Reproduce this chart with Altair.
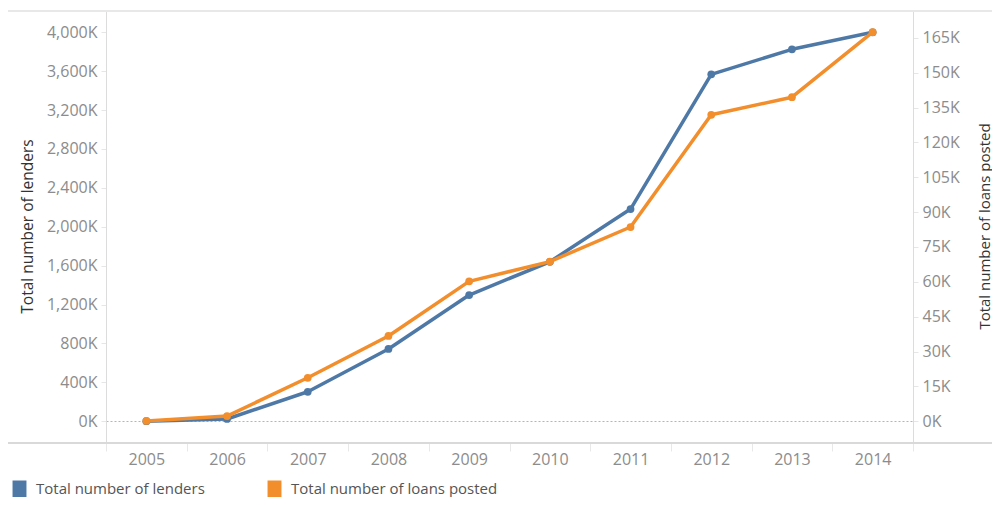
import altair as alt
import pandas as pd

years = ["2005", "2006", "2007", "2008", "2009", "2010", "2011", "2012", "2013", "2014"]
lenders = [300, 23000, 303000, 743000, 1298000, 1640000, 2182000, 3568000, 3825000, 4000000]
loans = [100, 2200, 18700, 36700, 60200, 68700, 83600, 131900, 139500, 167500]
series_names = ["Total number of lenders", "Total number of loans posted"]
series_colors = ["#4e79a7", "#f28e2b"]
left_ticks = [0, 400000, 800000, 1200000, 1600000, 2000000, 2400000, 2800000, 3200000, 3600000, 4000000]
right_ticks = [0, 15000, 30000, 45000, 60000, 75000, 90000, 105000, 120000, 135000, 150000, 165000]

rows = []
for y, a, b in zip(years, lenders, loans):
    rows.append({"year": y, "value": a, "series": series_names[0]})
    rows.append({"year": y, "value": b, "series": series_names[1]})
df = pd.DataFrame(rows)

FONT = "Open Sans"
W, H = 807, 432
LABEL_GREY = "#8c8c8c"

x_enc = alt.X(
    "year:N",
    sort=years,
    scale=alt.Scale(type="band", paddingInner=0, paddingOuter=0),
    axis=alt.Axis(
        title=None, labelAngle=0, domain=False, tickBand="extent", tickSize=8,
        tickColor="#e8e8e8", tickWidth=1, labelPadding=0, labelFont=FONT,
        labelFontSize=16, labelColor=LABEL_GREY, grid=False,
    ),
)

color_scale = alt.Scale(domain=series_names, range=series_colors)

y_left = alt.Y(
    "value:Q",
    scale=alt.Scale(domain=[-224000, 4219000], nice=False, zero=False),
    axis=alt.Axis(
        orient="left", values=left_ticks,
        labelExpr="format(datum.value / 1000, ',') + 'K'",
        title="Total number of lenders", titleFont=FONT, titleFontSize=15.5,
        titleFontWeight="normal", titleColor="#333333", titleAngle=270,
        titleX=-79, titleY=215, titleAlign="center", titleBaseline="middle",
        labelFont=FONT, labelFontSize=16, labelColor=LABEL_GREY,
        tickSize=5, tickColor="#e6e6e6", labelPadding=4,
        domainColor="#dcdcdc", domainWidth=1,
        grid=True, gridColor="#b5b5b5", gridDash=[2, 2], gridWidth=1,
        gridOpacity={"condition": {"test": "datum.value === 0", "value": 1}, "value": 0},
    ),
)

y_right = alt.Y(
    "value:Q",
    scale=alt.Scale(domain=[-9390, 176600], nice=False, zero=False),
    axis=alt.Axis(
        orient="right", values=right_ticks,
        labelExpr="format(datum.value / 1000, ',') + 'K'",
        title="Total number of loans posted", titleFont=FONT, titleFontSize=15,
        titleFontWeight="normal", titleColor="#333333", titleAngle=270,
        titleX=71, titleY=215, titleAlign="center", titleBaseline="middle",
        labelFont=FONT, labelFontSize=16, labelColor=LABEL_GREY,
        tickSize=5, tickColor="#e6e6e6", labelPadding=4,
        domainColor="#dcdcdc", domainWidth=1, grid=False,
    ),
)

legend = alt.Legend(
    orient="none", legendX=-95, legendY=469.5, direction="horizontal", title=None,
    symbolType="M-0.82,-1H0.82V1H-0.82Z", symbolSize=289, symbolStrokeWidth=0,
    symbolOpacity=1, labelFont=FONT, labelFontSize=15, labelColor="#555555",
    labelOffset=8, columnPadding=61, labelLimit=400,
)

def series_layers(idx, yenc):
    name = series_names[idx]
    base = alt.Chart(df).transform_filter(alt.datum.series == name)
    line = base.mark_line(
        strokeWidth=3.5, strokeJoin="round", color=series_colors[idx]
    ).encode(x=x_enc, y=yenc)
    pts = base.mark_circle(size=60, opacity=1).encode(
        x=x_enc, y=yenc,
        color=alt.Color("series:N", scale=color_scale, legend=legend),
    )
    return alt.layer(line, pts)

dummy = pd.DataFrame({"k": [0]})
top_line = alt.Chart(dummy).mark_rule(color="#e8e8e8", strokeWidth=2).encode(
    x=alt.value(-101), x2=alt.value(900), y=alt.value(0)
)
bottom_line = alt.Chart(dummy).mark_rule(color="#d9d9d9", strokeWidth=2).encode(
    x=alt.value(-104), x2=alt.value(900), y=alt.value(H)
)

chart = alt.layer(
    top_line,
    bottom_line,
    series_layers(0, y_left),
    series_layers(1, y_right),
).resolve_scale(y="independent").properties(
    width=W, height=H,
    autosize=alt.AutoSizeParams(type="none"),
    padding={"left": 98, "top": 3, "right": 79, "bottom": 54},
    background="white",
).configure_view(stroke=None)

chart.save("out.html", embed_options={"renderer": "svg", "actions": False})
